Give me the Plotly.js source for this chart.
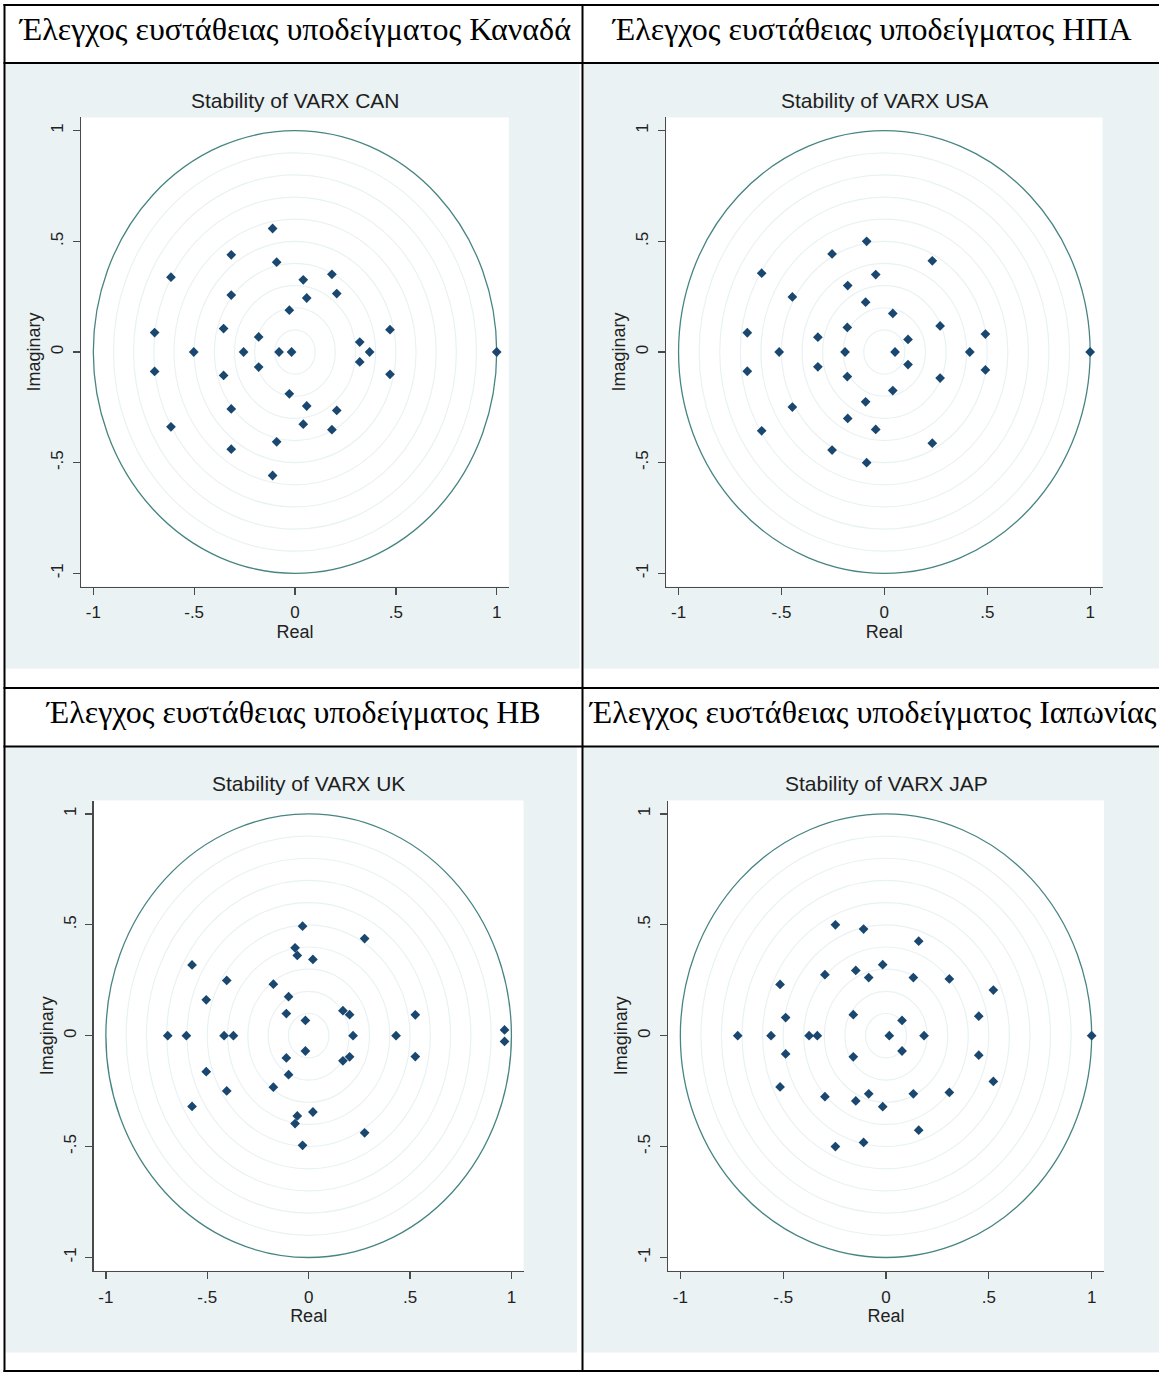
<!DOCTYPE html>
<html>
<head>
<meta charset="utf-8">
<script src="https://cdn.plot.ly/plotly-3.0.1.min.js"></script>
<style>
html,body{margin:0;padding:0;background:#fff;}
#chart{width:1159px;height:1373px;}
</style>
</head>
<body>
<div id="chart"></div>
<script>
// ---------- DATA (eigenvalues) ----------
const headers = [
  "Έλεγχος ευστάθειας υποδείγματος Καναδά",
  "Έλεγχος ευστάθειας υποδείγματος ΗΠΑ",
  "Έλεγχος ευστάθειας υποδείγματος ΗΒ",
  "Έλεγχος ευστάθειας υποδείγματος Ιαπωνίας"
];
const chartTitles = ["Stability of VARX CAN", "Stability of VARX USA", "Stability of VARX UK", "Stability of VARX JAP"];
const xTitle = "Real";
const yTitle = "Imaginary";
const tickValues = [-1, -0.5, 0, 0.5, 1];
const tickLabels = ["-1", "-.5", "0", ".5", "1"];
const gridRadii = [0.1, 0.2, 0.3, 0.4, 0.5, 0.6, 0.7, 0.8, 0.9];
const unitRadius = 1;

const canReal = [-0.111, -0.111, -0.316, -0.316, -0.091, -0.091, -0.615, -0.615, 0.041, 0.041,
                 0.183, 0.183, -0.316, -0.316, 0.058, 0.058, 0.207, 0.207, -0.028, -0.028,
                 -0.696, -0.696, -0.354, -0.354, -0.180, -0.180, 0.471, 0.471, 0.321, 0.321,
                 -0.502, -0.255, -0.079, -0.017, 0.370, 1.000];
const canImag = [0.558, -0.558, 0.439, -0.439, 0.406, -0.406, 0.338, -0.338, 0.326, -0.326,
                 0.351, -0.351, 0.257, -0.257, 0.244, -0.244, 0.264, -0.264, 0.189, -0.189,
                 0.088, -0.088, 0.106, -0.106, 0.068, -0.068, 0.101, -0.101, 0.045, -0.045,
                 0, 0, 0, 0, 0, 0];

const usaReal = [-0.086, -0.086, -0.254, -0.254, 0.233, 0.233, -0.596, -0.596, -0.042, -0.042,
                 -0.178, -0.178, -0.447, -0.447, -0.091, -0.091, 0.041, 0.041, 0.271, 0.271,
                 -0.180, -0.180, -0.666, -0.666, -0.323, -0.323, 0.491, 0.491, 0.115, 0.115,
                 -0.511, -0.191, 0.052, 0.415, 1.000];
const usaImag = [0.500, -0.500, 0.443, -0.443, 0.412, -0.412, 0.356, -0.356, 0.350, -0.350,
                 0.300, -0.300, 0.249, -0.249, 0.225, -0.225, 0.174, -0.174, 0.118, -0.118,
                 0.111, -0.111, 0.087, -0.087, 0.067, -0.067, 0.081, -0.081, 0.057, -0.057,
                 0, 0, 0, 0, 0];

const ukReal = [-0.030, -0.030, 0.276, 0.276, -0.067, -0.067, -0.056, -0.056, 0.021, 0.021,
                -0.575, -0.575, -0.404, -0.404, -0.174, -0.174, -0.505, -0.505, -0.099, -0.099,
                -0.110, -0.110, -0.016, -0.016, 0.169, 0.169, 0.202, 0.202, 0.526, 0.526,
                0.966, 0.966, -0.695, -0.603, -0.417, -0.371, 0.219, 0.431];
const ukImag = [0.494, -0.494, 0.438, -0.438, 0.396, -0.396, 0.362, -0.362, 0.344, -0.344,
                0.319, -0.319, 0.249, -0.249, 0.232, -0.232, 0.162, -0.162, 0.176, -0.176,
                0.100, -0.100, 0.069, -0.069, 0.113, -0.113, 0.095, -0.095, 0.094, -0.094,
                0.026, -0.026, 0, 0, 0, 0, 0, 0];

const japReal = [-0.246, -0.246, -0.109, -0.109, 0.159, 0.159, -0.016, -0.016, -0.147, -0.147,
                 -0.297, -0.297, -0.084, -0.084, 0.133, 0.133, 0.308, 0.308, -0.515, -0.515,
                 0.522, 0.522, -0.488, -0.488, -0.159, -0.159, 0.078, 0.078, 0.451, 0.451,
                 -0.721, -0.559, -0.374, -0.334, 0.016, 0.185, 1.000];
const japImag = [0.500, -0.500, 0.481, -0.481, 0.426, -0.426, 0.320, -0.320, 0.294, -0.294,
                 0.275, -0.275, 0.262, -0.262, 0.262, -0.262, 0.256, -0.256, 0.231, -0.231,
                 0.206, -0.206, 0.082, -0.082, 0.095, -0.095, 0.069, -0.069, 0.088, -0.088,
                 0, 0, 0, 0, 0, 0, 0];

// ---------- LAYOUT HELPERS ----------
const W = 1159, H = 1373;
const px = v => v / W;
const py = v => 1 - v / H;

const SERIF = "Liberation Serif, Times New Roman, serif";
const SANS = "Liberation Sans, Arial, sans-serif";
const AXCOL = "#4a4a4a";
const GRAPHBG = "#eaf2f3";
const NAVY = "#1a476f";
const CIRCLE = "#478582";
const GRIDC = "#e9f2f3";

// plot regions in pixels: [left, right, top, bottom]
const regions = [
  [81.2, 508.8, 117.4, 586.6],
  [666.2, 1102.5, 117.4, 586.6],
  [93.7, 523.6, 800.6, 1270.8],
  [668.0, 1104.0, 800.6, 1270.8]
];
// grey graph regions [left,right,top,bottom]
const graphRegions = [
  [5.5, 579.5, 64, 668.5],
  [583.5, 1160, 64, 668.5],
  [5.5, 577, 747.5, 1352.5],
  [583.5, 1160, 747.5, 1352.5]
];
const headerCenters = [[294, 29], [871, 29], [293, 712], [872, 712]];

const series = [[canReal, canImag], [usaReal, usaImag], [ukReal, ukImag], [japReal, japImag]];

const layout = {
  width: W, height: H,
  margin: {l: 0, r: 0, t: 0, b: 0},
  paper_bgcolor: "#ffffff",
  plot_bgcolor: "rgba(0,0,0,0)",
  showlegend: false,
  shapes: [],
  annotations: []
};
const traces = [];

// grey graph regions (lower layer)
graphRegions.forEach(g => {
  layout.shapes.push({type: "rect", xref: "paper", yref: "paper", layer: "below",
    x0: px(g[0]), x1: px(g[1]), y0: py(g[3]), y1: py(g[2]),
    fillcolor: GRAPHBG, line: {width: 0}});
});

regions.forEach((r, i) => {
  const n = i + 1;
  const xa = "x" + (n === 1 ? "" : n), ya = "y" + (n === 1 ? "" : n);
  const xk = "xaxis" + (n === 1 ? "" : n), yk = "yaxis" + (n === 1 ? "" : n);
  const common = {
    range: [-1.06, 1.06], tickmode: "array", tickvals: tickValues, ticktext: tickLabels,
    ticks: "outside", ticklen: 7, tickwidth: 1.3, tickcolor: AXCOL,
    showline: true, linecolor: AXCOL, linewidth: 1.3,
    showgrid: false, zeroline: false, fixedrange: true,
    tickfont: {family: SANS, size: 17, color: "#222"},
    ticklabelstandoff: 3
  };
  layout[xk] = Object.assign({}, common, {
    domain: [px(r[0]), px(r[1])], anchor: ya,
    title: {text: xTitle, font: {family: SANS, size: 18, color: "#222"}, standoff: 2}
  });
  layout[yk] = Object.assign({}, common, {
    domain: [py(r[3]), py(r[2])], anchor: xa, tickangle: -90,
    title: {text: yTitle, font: {family: SANS, size: 18, color: "#222"}, standoff: 2}
  });
  // white plot region
  layout.shapes.push({type: "rect", xref: xa + " domain", yref: ya + " domain", layer: "below",
    x0: 0, x1: 1, y0: 0, y1: 1, fillcolor: "#ffffff", line: {width: 0}});
  // grid circles
  gridRadii.forEach(rad => {
    layout.shapes.push({type: "circle", xref: xa, yref: ya, layer: "below",
      x0: -rad, x1: rad, y0: -rad, y1: rad, line: {color: GRIDC, width: 1.2}});
  });
  // unit circle
  layout.shapes.push({type: "circle", xref: xa, yref: ya, layer: "below",
    x0: -unitRadius, x1: unitRadius, y0: -unitRadius, y1: unitRadius,
    line: {color: CIRCLE, width: 1.3}});
  // points
  traces.push({type: "scatter", mode: "markers", x: series[i][0], y: series[i][1],
    xaxis: xa, yaxis: ya, hoverinfo: "x+y",
    marker: {symbol: "diamond", size: 7.5, color: NAVY}});
  // chart title
  layout.annotations.push({xref: "paper", yref: "paper", x: px((r[0] + r[1]) / 2), y: py(r[2] - 17),
    text: chartTitles[i], showarrow: false, xanchor: "center", yanchor: "middle",
    font: {family: SANS, size: 21, color: "#1e1e1e"}});
  // header text
  layout.annotations.push({xref: "paper", yref: "paper", x: px(headerCenters[i][0]), y: py(headerCenters[i][1]),
    text: headers[i], showarrow: false, xanchor: "center", yanchor: "middle",
    font: {family: SERIF, size: 32, color: "#000"}});
});

// table borders
const hLines = [5, 63, 688, 746.5, 1371];
hLines.forEach(y => {
  layout.shapes.push({type: "line", xref: "paper", yref: "paper", layer: "above",
    x0: px(3.5), x1: px(1160), y0: py(y), y1: py(y), line: {color: "#000", width: 2}});
});
[4.5, 582.5].forEach(x => {
  layout.shapes.push({type: "line", xref: "paper", yref: "paper", layer: "above",
    x0: px(x), x1: px(x), y0: py(4), y1: py(1372), line: {color: "#000", width: 2}});
});

Plotly.newPlot("chart", traces, layout, {displayModeBar: false, staticPlot: true});
</script>
</body>
</html>
